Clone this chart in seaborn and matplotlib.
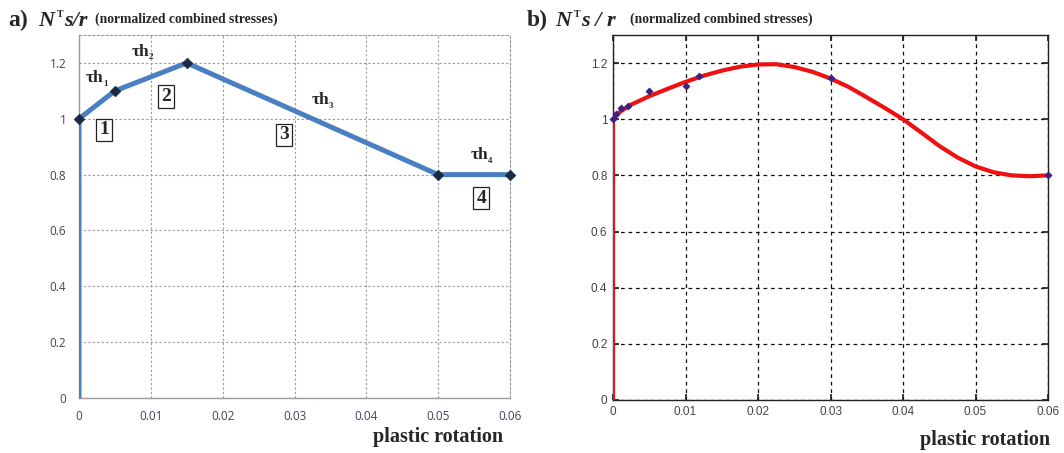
import numpy as np
import pandas as pd
import matplotlib
matplotlib.use("Agg")
import matplotlib.pyplot as plt
import matplotlib.transforms as mtransforms
import seaborn as sns

# ---- (a) piecewise-linear hardening law ----
a_rot = [0.0, 0.0, 0.005, 0.015, 0.05, 0.06]
a_stress = [0.0, 1.0, 1.1, 1.2, 0.8, 0.8]
a_knot_rot = [0.0, 0.005, 0.015, 0.05, 0.06]
a_knot_stress = [1.0, 1.1, 1.2, 0.8, 0.8]

# ---- (b) measured points and smooth fitted curve ----
b_pts_rot = [0.0, 0.00045, 0.00105, 0.002, 0.005, 0.01, 0.0118, 0.03, 0.06]
b_pts_stress = [1.0, 1.02, 1.04, 1.048, 1.102, 1.12, 1.154, 1.148, 0.8]
b_curve_rot = [0.0, 0.0, 0.0005, 0.001, 0.0025, 0.005, 0.0075, 0.01, 0.0125,
               0.015, 0.0175, 0.02, 0.0225, 0.025, 0.0275, 0.03, 0.0325,
               0.035, 0.0375, 0.04, 0.0425, 0.045, 0.0475, 0.05, 0.0525,
               0.055, 0.0575, 0.06]
b_curve_stress = [0.0, 1.0, 1.015, 1.027, 1.052, 1.082, 1.108, 1.133, 1.155,
                  1.173, 1.187, 1.195, 1.196, 1.186, 1.169, 1.145, 1.115,
                  1.078, 1.040, 1.0, 0.953, 0.905, 0.864, 0.832, 0.811,
                  0.800, 0.797, 0.800]

x_ticks = [0, 0.01, 0.02, 0.03, 0.04, 0.05, 0.06]
x_labels = ["0", "0.01", "0.02", "0.03", "0.04", "0.05", "0.06"]
y_ticks = [0, 0.2, 0.4, 0.6, 0.8, 1.0, 1.2]
y_labels = ["0", "0.2", "0.4", "0.6", "0.8", "1", "1.2"]

seg_labels = ["1", "2", "3", "4"]
seg_pos = [(0.0035, 0.96), (0.0121, 1.08), (0.0285, 0.942), (0.056, 0.716)]
tau_subs = ["1", "2", "3", "4"]
tau_pos = [(0.0022, 1.146), (0.0085, 1.24), (0.0336, 1.067), (0.0558, 0.87)]

sns.set_theme(style="white")
plt.rcParams["font.family"] = ["Liberation Serif", "DejaVu Serif"]

W, H = 1064, 453
fig = plt.figure(figsize=(W / 100, H / 100), dpi=100)
ax1 = fig.add_axes([79 / W, 1 - 398 / H, (510 - 79) / W, (398 - 35) / H])
ax2 = fig.add_axes([613 / W, 1 - 400 / H, (1048 - 613) / W, (400 - 35) / H])
renderer = fig.canvas.get_renderer()

# ---------- panel (a) ----------
df_a = pd.DataFrame({"rot": a_rot, "s": a_stress})
df_ak = pd.DataFrame({"rot": a_knot_rot, "s": a_knot_stress})
sns.lineplot(data=df_a, x="rot", y="s", sort=False, estimator=None, ax=ax1,
             color="#4a7fc1", linewidth=3.6, solid_joinstyle="miter", zorder=3)
sns.scatterplot(data=df_ak, x="rot", y="s", ax=ax1, marker="D", s=30,
                color="#1b2a44", edgecolor="#1b2a44", zorder=4, clip_on=False)

ax1.set_xlim(0, 0.06)
ax1.set_ylim(0, 1.3)
ax1.set_xticks(x_ticks)
ax1.set_xticklabels(x_labels)
ax1.set_yticks(y_ticks)
ax1.set_yticklabels(y_labels)
ax1.grid(True, color="#9a9a9a", linestyle=(0, (2, 2)), linewidth=0.8)
ax1.set_axisbelow(True)
for side in ["left", "bottom"]:
    ax1.spines[side].set_color("#9a9a9a")
    ax1.spines[side].set_linewidth(1.0)
for side in ["top", "right"]:
    ax1.spines[side].set_color("#9a9a9a")
    ax1.spines[side].set_linestyle((0, (2, 2)))
    ax1.spines[side].set_linewidth(0.8)
ax1.tick_params(axis="both", which="both", direction="out", length=3,
                color="#9a9a9a", labelcolor="#4a3f5c", labelsize=8.5, pad=6)
for lab in ax1.get_xticklabels() + ax1.get_yticklabels():
    lab.set_family(["Open Sans", "DejaVu Sans"])
ax1.set_xlabel("")
ax1.set_ylabel("")

for lab, (x, y) in zip(seg_labels, seg_pos):
    ax1.text(x, y, lab, ha="center", va="center", fontsize=14, weight="bold",
             bbox=dict(boxstyle="square,pad=0.15", facecolor="white",
                       edgecolor="#222222", linewidth=0.9), zorder=5)
sub_tr = mtransforms.offset_copy(ax1.transData, fig=fig, x=5.8, y=-4.0,
                                 units="points")
for sub, (x, y) in zip(tau_subs, tau_pos):
    ax1.text(x, y, "τh", ha="center", va="center", fontsize=12.5,
             weight="bold", zorder=5)
    ax1.text(x, y, sub, transform=sub_tr, ha="left", va="center",
             fontsize=6.5, weight="bold", zorder=5)

# ---------- panel (b) ----------
df_bc = pd.DataFrame({"rot": b_curve_rot, "s": b_curve_stress})
df_bp = pd.DataFrame({"rot": b_pts_rot, "s": b_pts_stress})
sns.lineplot(data=df_bc, x="rot", y="s", sort=False, estimator=None, ax=ax2,
             color="#ee1111", linewidth=3.0, zorder=3)
sns.scatterplot(data=df_bp, x="rot", y="s", ax=ax2, marker="D", s=14,
                color="#3a1f86", edgecolor="#3a1f86", zorder=4, clip_on=False)

ax2.set_xlim(0, 0.06)
ax2.set_ylim(0, 1.3)
ax2.set_xticks(x_ticks)
ax2.set_xticklabels(x_labels)
ax2.set_yticks(y_ticks)
ax2.set_yticklabels(y_labels)
ax2.grid(True, color="#111111", linestyle=(0, (3, 3)), linewidth=0.9)
ax2.set_axisbelow(True)
for side in ax2.spines:
    ax2.spines[side].set_color("#222222")
    ax2.spines[side].set_linewidth(1.0)
ax2.tick_params(axis="both", which="both", direction="in", length=4,
                color="#222222", labelcolor="#444444", labelsize=8.5, pad=4,
                top=True, right=True, bottom=True, left=True)
for lab in ax2.get_xticklabels() + ax2.get_yticklabels():
    lab.set_family(["Liberation Sans", "DejaVu Sans"])
ax2.set_xlabel("")
ax2.set_ylabel("")


def px_text(x, y, s, **kw):
    """Place text at a pixel position measured from the top-left corner."""
    return fig.text(x / W, 1 - y / H, s, **kw)


def right_edge(t):
    """Right edge of a text in pixels from the left of the figure."""
    return t.get_window_extent(renderer=renderer).x1


def stress_symbol(x0, base, slash):
    """Bold italic N with a small upright superscript T followed by s/r."""
    big = dict(fontsize=16, weight="bold", style="italic", va="baseline")
    n = px_text(x0, base, "N", **big)
    t = px_text(right_edge(n) + 2.5, base - 9, "T", fontsize=7, weight="bold",
                va="baseline")
    px_text(right_edge(t) + 1, base, slash, **big)


# ---------- titles and axis captions ----------
px_text(8, 26, "a)", fontsize=17, weight="bold", va="baseline")
stress_symbol(38, 26, "s/r")
px_text(95, 23, "(normalized combined stresses)", fontsize=9.8,
        weight="bold", va="baseline")

px_text(527, 26, "b)", fontsize=17, weight="bold", va="baseline")
stress_symbol(555, 26, "s / r")
px_text(630, 23, "(normalized combined stresses)", fontsize=9.8,
        weight="bold", va="baseline")

px_text(503, 437, "plastic rotation", fontsize=14.5, weight="bold",
        ha="right", va="center")
px_text(1050, 440, "plastic rotation", fontsize=14.5, weight="bold",
        ha="right", va="center")

fig.savefig("out.png", dpi=100)
